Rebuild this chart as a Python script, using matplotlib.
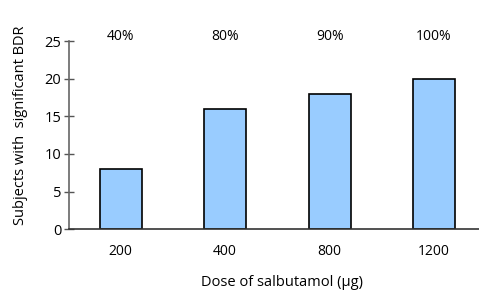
import matplotlib.pyplot as plt

doses = ["200", "400", "800", "1200"]
subjects = [8, 16, 18, 20]
percent = ["40%", "80%", "90%", "100%"]

plt.rcParams["font.family"] = ["Open Sans", "DejaVu Sans"]

fig = plt.figure(figsize=(4.79, 2.9), dpi=100)
ax = fig.add_axes([0.144, 0.21, 0.856, 0.648])

x = range(len(doses))
ax.bar(x, subjects, width=0.4, color="#99ccff", edgecolor="black", linewidth=1.2, zorder=2)

for i, p in enumerate(percent):
    ax.text(i, 25.6, p, ha="center", va="center", fontsize=10, clip_on=False)

ax.set_xlim(-0.495, 3.43)
ax.set_ylim(0, 25)
ax.set_xticks(list(x))
ax.set_xticklabels(doses)
ax.set_yticks([0, 5, 10, 15, 20, 25])
ax.tick_params(axis="x", length=0, pad=11, labelsize=10)
ax.tick_params(axis="y", direction="inout", length=7, width=1, color="#555555", pad=2, labelsize=10.5)

ax.spines["top"].set_visible(False)
ax.spines["right"].set_visible(False)
ax.spines["left"].set_color("#666666")
ax.spines["left"].set_linewidth(1.2)
ax.spines["bottom"].set_color("#333333")
ax.spines["bottom"].set_linewidth(1.2)

ax.set_xlabel("Dose of salbutamol (μg)", fontsize=10.5)
ax.xaxis.set_label_coords(0.52, -0.243)
ax.set_ylabel("Subjects with  significant BDR", fontsize=10.5)
ax.yaxis.set_label_coords(-0.1, 0.55)

fig.savefig("out.png", dpi=100)
